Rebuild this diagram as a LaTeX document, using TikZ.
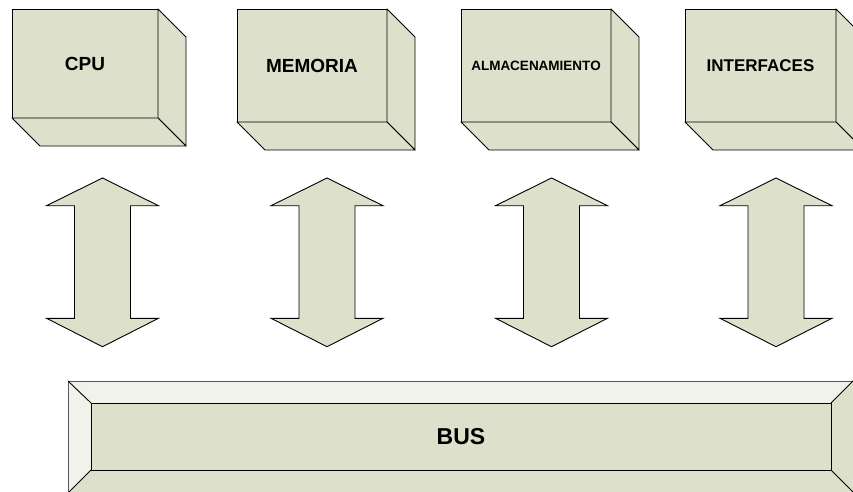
\documentclass[tikz,border=0pt]{standalone}
\usepackage{fontspec}
\setmainfont{Liberation Sans}
\definecolor{olivefill}{RGB}{221,224,202}
\definecolor{lightfill}{RGB}{241,242,234}
\definecolor{edgegrey}{RGB}{90,90,90}
\tikzset{
  face/.style={draw=black, fill=olivefill, line width=0.9pt, rectangle, anchor=north west,
    inner sep=0pt, outer sep=0pt, font=\bfseries},
  sideface/.style={draw=black, fill=olivefill, line width=0.9pt, line join=round},
  busarrow/.style={draw=black, fill=olivefill, line width=0.9pt, line join=miter},
  bevellight/.style={fill=lightfill},
  beveldark/.style={fill=olivefill},
}
\newcommand{\cubesides}[1]{%
  \draw[sideface] (#1.north east) -- ++(28,28) -- ([shift={(28,28)}]#1.south east) -- (#1.south east) -- cycle;
  \draw[sideface] (#1.south west) -- ++(28,28) -- ([shift={(28,28)}]#1.south east) -- (#1.south east) -- cycle;
}
\newcommand{\dblarrow}[2]{%
  \coordinate (#1) at (#2,262);
  \draw[busarrow] ([shift={(0,-84)}]#1) -- ++(56,27.7) -- ++(-28,0) -- ++(0,112.6) -- ++(28,0)
    -- ([shift={(0,84.7)}]#1) -- ++(-56,-28.4) -- ++(28,0) -- ++(0,-112.6) -- ++(-28,0) -- cycle;
}
\begin{document}
\begin{tikzpicture}[x=1pt,y=-1pt]
\useasboundingbox (0,0) rectangle (853,492);
\clip (0,0) rectangle (853,492);

% cubes
\node[face, minimum width=146pt, minimum height=109pt] (cpu) at (12,9) {\fontsize{19}{19}\selectfont CPU};
\cubesides{cpu}
\node[face, minimum width=150pt, minimum height=113pt] (mem) at (237,9) {\fontsize{19}{19}\selectfont MEMORIA};
\cubesides{mem}
\node[face, minimum width=150pt, minimum height=113pt] (alm) at (461,9) {\fontsize{13.5}{13.5}\selectfont ALMACENAMIENTO};
\cubesides{alm}
\node[face, minimum width=151pt, minimum height=113pt] (int) at (685,9) {\fontsize{17}{17}\selectfont INTERFACES};
\cubesides{int}

% arrows
\dblarrow{a1}{102.5}
\dblarrow{a2}{327}
\dblarrow{a3}{551.5}
\dblarrow{a4}{776}

% bus
\coordinate (bo1) at (68,381);
\coordinate (bo2) at (876,381);
\coordinate (bo3) at (876,515);
\coordinate (bo4) at (68,515);
\node[draw=black, fill=olivefill, line width=0.9pt, anchor=north west, minimum width=740pt, minimum height=67pt,
  inner sep=0pt, outer sep=0pt, font=\bfseries] (bus) at (91,403) {};
\fill[bevellight] (bo1) -- (853,381) -- (bus.north east) -- (bus.north west) -- cycle;
\fill[bevellight] (bo1) -- (bus.north west) -- (bus.south west) -- (68,493) -- cycle;
\fill[beveldark] (bus.north east) -- (853,381) -- (853,493) -- (bus.south east) -- cycle;
\fill[beveldark] (bus.south west) -- (bus.south east) -- (853,493) -- (68,493) -- cycle;
\draw[edgegrey, line width=1pt] (68,493) -- (bo1) -- (854,381);
\draw[black, line width=0.9pt] (bo1) -- (bus.north west);
\draw[black, line width=0.9pt] (bus.south west) -- (68,493);
\draw[black, line width=0.9pt] (bus.north east) -- (853,381);
\draw[black, line width=0.9pt] (bus.south east) -- (853,492);
\draw[black, line width=0.9pt] (bus.north west) rectangle (bus.south east);
\node[font=\bfseries] at (bus.center) {\fontsize{23}{23}\selectfont BUS};
\end{tikzpicture}
\end{document}
